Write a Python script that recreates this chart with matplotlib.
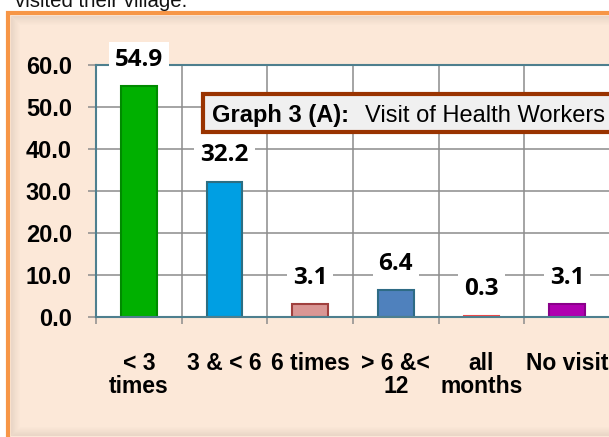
import numpy as np
import matplotlib
matplotlib.use("Agg")
from matplotlib import pyplot as plt
from matplotlib.patches import Rectangle

categories = ["< 3\ntimes", "3 & < 6", "6 times", "> 6 &<\n12", "all\nmonths", "No visit"]
values = [54.9, 32.2, 3.1, 6.4, 0.3, 3.1]
value_labels = ["54.9", "32.2", "3.1", "6.4", "0.3", "3.1"]
bar_colors = ["#00B000", "#009FE3", "#D99694", "#4F81BD", "#FF5050", "#B000B0"]
edge_colors = ["#008A00", "#2D6E82", "#A0403E", "#2E6B85", "#F04848", "#8A008A"]
y_ticks = [0, 10, 20, 30, 40, 50, 60]

W, H = 609, 437
plt.rcParams['font.family'] = ['Liberation Sans', 'DejaVu Sans']

fig = plt.figure(figsize=(W / 100, H / 100), dpi=100)
fig.patch.set_facecolor("white")


def fx(x):
    return x / W


def fy(y):
    return 1 - y / H


# orange frame with peach fill
frame = Rectangle((fx(8), fy(460)), fx(640), 447 / H, transform=fig.transFigure,
                  facecolor="#FCE8D8", edgecolor="#F79646", linewidth=3, zorder=-2)
fig.add_artist(frame)
# inner shadow of the frame
for i in range(1, 10):
    sh = Rectangle((fx(10 + i), fy(436 - i)), fx(640), (421 - 2 * i) / H,
                   transform=fig.transFigure, fill=False, edgecolor="#7a6a60",
                   alpha=0.13 * (10 - i) / 9, linewidth=0.75, zorder=-1)
    fig.add_artist(sh)

fig.text(fx(15), fy(7), "visited their village.", fontsize=14.7, va="baseline",
         ha="left", color="#111111")

ax = fig.add_axes([fx(96), fy(317), 514 / W, 252 / H])
ax.set_facecolor("white")
x = np.arange(len(values))
ax.bar(x, values, width=0.42, color=bar_colors, edgecolor=edge_colors, linewidth=1.5)

ax.set_xlim(-0.5, len(values) - 0.5)
ax.set_ylim(0, 60)
ax.set_axisbelow(True)

ax.set_yticks(y_ticks)
ax.set_yticklabels(["%.1f" % v for v in y_ticks], fontsize=17, fontweight="bold")
ax.tick_params(axis="y", length=5.8, width=1.1, color="#8c8c8c", pad=11.5)

ax.set_xticks(x)
ax.set_xticklabels(categories, fontsize=16.5, fontweight="bold", linespacing=1.0)
ax.set_xticks(np.arange(len(values) + 1) - 0.5, minor=True)
ax.tick_params(axis="x", which="major", length=0, pad=25)
ax.tick_params(axis="x", which="minor", length=5, width=1.1, color="#8c8c8c")

ax.grid(axis="y", which="major", color="#8c8c8c", linewidth=1.1)
ax.grid(axis="x", which="minor", color="#8c8c8c", linewidth=1.1)

for s in ["left", "bottom", "top"]:
    ax.spines[s].set_color("#4E7F8E")
    ax.spines[s].set_linewidth(1.5)
ax.spines["right"].set_visible(False)

for xi, v, lab in zip(x, values, value_labels):
    ax.annotate(lab, (xi, v), xytext=(0, 19), textcoords="offset points",
                ha="center", va="center", fontsize=17.5, fontweight="bold",
                family=["Open Sans", "DejaVu Sans"], zorder=4,
                bbox=dict(boxstyle="square,pad=0.25", facecolor="white", edgecolor="none"))

# title box
tbox = Rectangle((fx(203), fy(132)), fx(450), 38 / H, transform=fig.transFigure,
                 facecolor="#F0F0F0", edgecolor="#993300", linewidth=3, zorder=5)
fig.add_artist(tbox)
fig.text(fx(212), fy(122), "Graph 3 (A):", fontsize=17, fontweight="bold",
         va="baseline", ha="left", zorder=6)
fig.text(fx(365), fy(122), "Visit of Health Workers", fontsize=17,
         va="baseline", ha="left", zorder=6)

plt.savefig("out.png", dpi=100)
